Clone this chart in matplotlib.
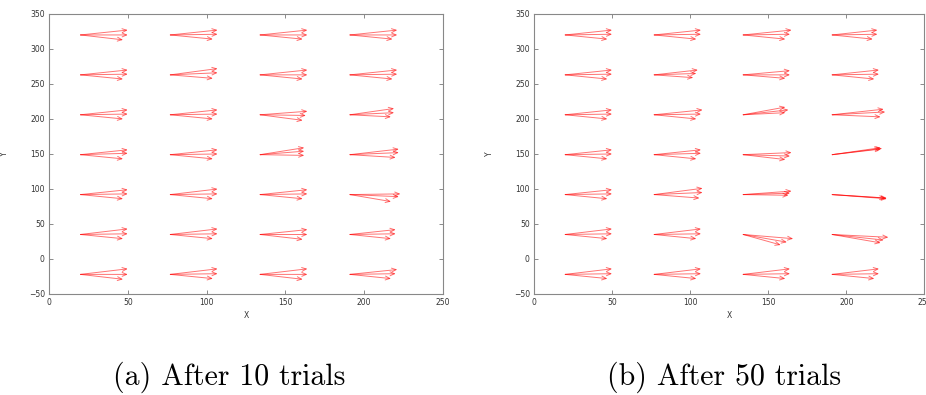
import matplotlib
matplotlib.use("Agg")
import matplotlib.pyplot as plt
from matplotlib.patches import FancyArrowPatch

# grid of start points
xs = [20, 77, 134, 191]
ys = [-22, 35, 92, 149, 206, 263, 320]

# arrows per cell: (dx, dy) for 3 arrows, rows from y=-22 upwards, cols left to right
arrows_a = [
    [[(30, 8), (30, 0), (27, -7)], [(30, 8), (30, 1), (27, -6)], [(30, 8), (30, 0), (27, -7)], [(30, 7), (29, 1), (26, -6)]],
    [[(30, 8), (30, 1), (27, -6)], [(30, 8), (30, 1), (27, -6)], [(30, 7), (30, 0), (27, -7)], [(29, 7), (29, 1), (26, -6)]],
    [[(30, 7), (30, 1), (27, -6)], [(30, 8), (30, 1), (27, -6)], [(30, 7), (30, 1), (27, -6)], [(32, 1), (31, -3), (26, -10)]],
    [[(30, 7), (30, 2), (27, -6)], [(30, 7), (30, 1), (27, -6)], [(28, 10), (28, 5), (28, -1)], [(31, 8), (31, 3), (29, -4)]],
    [[(30, 7), (30, 1), (27, -6)], [(30, 7), (30, 1), (27, -6)], [(30, 5), (29, -1), (27, -8)], [(28, 9), (28, 3), (26, -3)]],
    [[(30, 7), (30, 1), (27, -6)], [(30, 9), (30, 3), (27, -5)], [(30, 7), (30, 0), (27, -6)], [(30, 7), (30, 1), (27, -6)]],
    [[(30, 7), (30, 0), (27, -7)], [(30, 7), (30, 1), (27, -6)], [(30, 7), (30, 0), (27, -6)], [(30, 7), (30, 0), (27, -6)]],
]

arrows_b = [
    [[(30, 8), (30, 1), (27, -6)], [(30, 8), (30, 1), (27, -6)], [(30, 8), (30, 1), (27, -6)], [(30, 8), (30, 1), (27, -6)]],
    [[(30, 8), (30, 1), (27, -6)], [(30, 8), (30, 1), (27, -6)], [(32, -6), (28, -11), (24, -15)], [(36, -4), (33, -8), (31, -12)]],
    [[(30, 7), (30, 1), (27, -6)], [(31, 9), (31, 3), (29, -5)], [(31, 5), (30, 2), (29, -1)], [(35, -6), (34, -5), (35, -5)]],
    [[(30, 7), (30, 1), (27, -6)], [(30, 7), (30, 2), (27, -6)], [(31, 3), (30, -2), (27, -7)], [(31, 8), (32, 9), (31, 10)]],
    [[(30, 7), (30, 1), (27, -6)], [(31, 7), (30, 1), (27, -6)], [(27, 11), (29, 7), (27, 3)], [(33, 8), (34, 4), (31, -3)]],
    [[(30, 7), (30, 1), (27, -6)], [(28, 7), (27, 2), (25, -4)], [(30, 6), (30, 0), (27, -5)], [(30, 7), (30, 1), (27, -6)]],
    [[(30, 7), (30, 1), (27, -6)], [(30, 7), (30, 1), (27, -6)], [(31, 7), (30, 1), (27, -6)], [(29, 7), (29, 1), (26, -6)]],
]

captions = ["(a) After 10 trials", "(b) After 50 trials"]
xticks = [0, 50, 100, 150, 200, 250]
yticks = [-50, 0, 50, 100, 150, 200, 250, 300, 350]

fig = plt.figure(figsize=(9.26, 3.95), dpi=100)
ax_a = fig.add_axes([0.0529, 0.2557, 0.4255, 0.709])
ax_b = fig.add_axes([0.5767, 0.2557, 0.4215, 0.709])


def draw(ax, arrows):
    for i, y in enumerate(ys):
        for j, x in enumerate(xs):
            for dx, dy in arrows[i][j]:
                ax.add_patch(FancyArrowPatch((x, y), (x + dx, y + dy),
                                             arrowstyle="->,head_length=3.2,head_width=1.4",
                                             mutation_scale=1, lw=0.7, color="red",
                                             alpha=0.55, shrinkA=0, shrinkB=0))
    ax.set_xlim(0, 250)
    ax.set_ylim(-50, 350)
    ax.set_xticks(xticks)
    ax.set_yticks(yticks)
    ax.tick_params(direction="in", length=3, width=0.6, labelsize=5.5,
                   top=True, right=True, colors="#777777", labelcolor="#333333", pad=3)
    for s in ax.spines.values():
        s.set_color("#888888")
        s.set_linewidth(0.8)
    ax.set_xlabel("X", fontsize=5.5, color="#333333", labelpad=3)
    ax.set_ylabel("Y", fontsize=5.5, color="#333333", labelpad=14)


draw(ax_a, arrows_a)
draw(ax_b, arrows_b)

fig.text(0.247, 0.045, captions[0], fontfamily="cmr10", fontsize=21.5, ha="center", va="center")
fig.text(0.782, 0.045, captions[1], fontfamily="cmr10", fontsize=21.5, ha="center", va="center")

fig.savefig("out.png", dpi=100)
